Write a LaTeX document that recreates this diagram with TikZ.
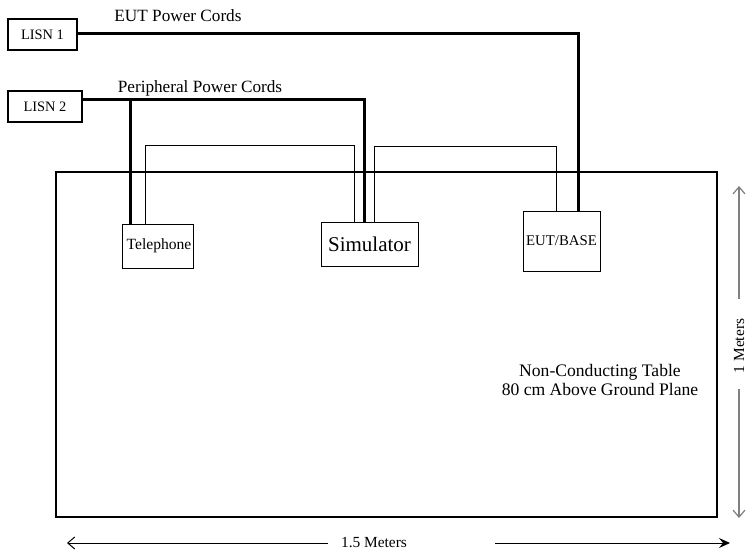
\documentclass[tikz,border=0pt]{standalone}
\usepackage{fontspec}
\setmainfont{Liberation Serif}
\usetikzlibrary{arrows.meta, positioning, calc}

\tikzset{
  lisnbox/.style={draw, line width=0.6pt, minimum height=15.5pt, inner sep=0pt, font=\fontsize{7.2}{8.5}\selectfont},
  unitbox/.style={draw, line width=0.5pt, inner sep=0pt},
  cord/.style={line width=1.5pt},
  cable/.style={line width=0.45pt},
  dimline/.style={line width=0.5pt},
  dimgray/.style={line width=0.6pt, draw=black!50},
  label/.style={inner sep=0pt, font=\fontsize{8.6}{10}\selectfont}
}

\begin{document}
\begin{tikzpicture}[x=0.5pt,y=-0.5pt]
  \path[use as bounding box] (0,0) rectangle (746,552);

  % Table
  \draw[line width=1pt] (56,172) rectangle (717,517);
  \node[align=center, inner sep=0pt, font=\fontsize{8.8}{9.6}\selectfont] (tabletxt) at (600,380)
    {Non-Conducting Table\\80 cm Above Ground Plane};

  % LISNs
  \node[lisnbox, minimum width=34.5pt] (lisnA) at (42.5,34.5) {LISN 1};
  \node[lisnbox, minimum width=37pt] (lisnB) at (45,106.5) {LISN 2};
  \node[label] (eutcords) at (178,16) {EUT Power Cords};
  \node[label] (percords) at (200,88) {Peripheral Power Cords};

  % Units on the table
  \node[unitbox, minimum width=35.5pt, minimum height=22pt, font=\fontsize{7.8}{9}\selectfont] (phone) at (157.5,246) {\hspace{1.5pt}Telephone};
  \node[unitbox, minimum width=48.5pt, minimum height=22pt, font=\fontsize{10.5}{12}\selectfont] (sim) at (369.5,244) {Simulator};
  \node[unitbox, minimum width=38.5pt, minimum height=30pt, font=\fontsize{7.4}{9}\selectfont] (eut) at (561.5,241) {EUT/BASE};

  % Power cords
  \draw[cord] ([yshift=0.75pt]lisnA.east) -| ([xshift=8.25pt]eut.north);
  \draw[cord] ([yshift=3.75pt]lisnB.east) -| ([xshift=-2.75pt]sim.north);
  \draw[cord] ([xshift=-13.75pt]phone.north) |- ([yshift=3.75pt]lisnB.east);

  % Interconnecting cables
  \draw[cable] ([xshift=-6.25pt]phone.north) -- ++(0,-78) -| ([xshift=-7.75pt]sim.north);
  \draw[cable] ([xshift=2.25pt]sim.north) -- ++(0,-75) -| ([xshift=-2.75pt]eut.north);

  % Dimensions
  \node[inner sep=0pt, font=\fontsize{7.7}{9}\selectfont] (wid) at (374,543) {1.5 Meters};
  \coordinate (widL) at (67,543);
  \coordinate (widR) at (730,543);
  \draw[dimline, -{Straight Barb[length=3.5pt,width=6pt]}] ([xshift=-6.5pt]wid.west) -- (widL);
  \draw[dimline, -{Stealth[length=5.5pt,width=5pt,inset=2pt]}] ([xshift=44pt]wid.east) -- (widR);

  \node[inner sep=0pt, rotate=90, font=\fontsize{7.7}{9}\selectfont] (hgt) at (739,346) {1 Meters};
  \coordinate (hgtT) at (739,186);
  \coordinate (hgtB) at (739,518);
  \draw[dimgray, -{Straight Barb[length=3.5pt,width=6pt]}] ([yshift=9.5pt]hgt.east) -- (hgtT);
  \draw[dimgray, -{Straight Barb[length=3.5pt,width=6pt]}] ([yshift=-7.5pt]hgt.west) -- (hgtB);
\end{tikzpicture}
\end{document}
